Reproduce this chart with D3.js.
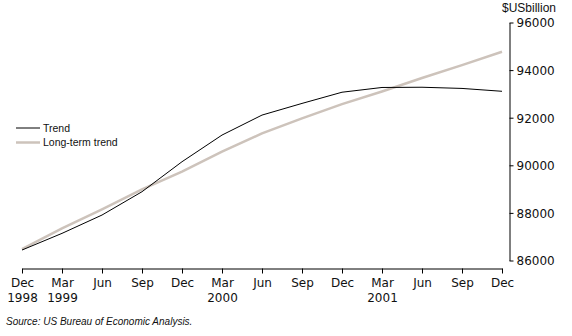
<!DOCTYPE html>
<html><head><meta charset="utf-8">
<script src="https://cdn.jsdelivr.net/npm/d3@7"></script>
<style>
body{margin:0;background:#fff}
svg{display:block}
.ax text{font-family:"DejaVu Sans",sans-serif;font-size:12px;fill:#111}
</style></head><body>
<script>
const quarters = ["Dec","Mar","Jun","Sep","Dec","Mar","Jun","Sep","Dec","Mar","Jun","Sep","Dec"];
const years = ["1998","1999","","","","2000","","","","2001","","",""];
const trend = [86440,87140,87910,88890,90150,91270,92110,92600,93070,93270,93280,93230,93110];
const longTerm = [86480,87350,88150,88990,89730,90570,91340,91970,92570,93100,93670,94210,94770];
const yTicks = [86000,88000,90000,92000,94000,96000];
const seriesNames = ["Trend","Long-term trend"];
const colors = ["#000000","#cdc3bb"];

const W=572,H=336;
const svg=d3.select("body").append("svg").attr("width",W).attr("height",H);
const idx=d3.range(quarters.length);
const x=d3.scaleLinear().domain([0,quarters.length-1]).range([22,502]);
const y=d3.scaleLinear().domain([86000,96000]).range([260.5,22.5]);

// x axis
const xa=svg.append("g").attr("class","ax").attr("transform","translate(0,268.5)")
  .call(d3.axisBottom(x).tickValues(idx).tickSize(5).tickSizeOuter(0).tickFormat(""));
xa.select(".domain").attr("stroke","#000");
xa.selectAll(".tick line").attr("stroke","#000");
const xl=xa.selectAll(".tick");
xl.append("text").attr("y",18).attr("text-anchor","middle").text(i=>quarters[i]);
xl.append("text").attr("y",33).attr("text-anchor","middle").text(i=>years[i]);

// y axis
const ya=svg.append("g").attr("class","ax").attr("transform","translate(509.5,0)")
  .call(d3.axisRight(y).tickValues(yTicks).tickSize(4).tickSizeOuter(0).tickFormat(d3.format("d")).tickPadding(3));
ya.select(".domain").attr("stroke","#000");
ya.selectAll(".tick line").attr("stroke","#000");
ya.selectAll(".tick text").attr("dy","0.36em");
svg.append("text").attr("x",556).attr("y",12).attr("text-anchor","end")
  .style("font-family","Arial,'Liberation Sans',sans-serif").style("font-size","12px").style("fill","#111").text("$USbillion");

const line=d3.line().x((d,i)=>x(i)).y(d=>y(d));
svg.append("path").datum(longTerm).attr("d",line).attr("fill","none").attr("stroke",colors[1]).attr("stroke-width",2.5);
svg.append("path").datum(trend).attr("d",line).attr("fill","none").attr("stroke",colors[0]).attr("stroke-width",1);

// legend
const lg=svg.append("g");
seriesNames.forEach((n,i)=>{
  const yy=128+i*14.5;
  lg.append("line").attr("x1",16).attr("x2",40).attr("y1",yy).attr("y2",yy)
    .attr("stroke",colors[i]).attr("stroke-width",i?2.5:1);
  lg.append("text").attr("x",43).attr("y",yy).attr("dy","0.35em")
    .style("font-family","Arial,'Liberation Sans',sans-serif").style("font-size","10.5px").style("fill","#111").text(n);
});

svg.append("text").attr("x",6).attr("y",325)
  .style("font-family","Arial,'Liberation Sans',sans-serif").style("font-size","10px").style("font-style","italic").style("fill","#111")
  .text("Source: US Bureau of Economic Analysis.");
</script>
</body></html>
